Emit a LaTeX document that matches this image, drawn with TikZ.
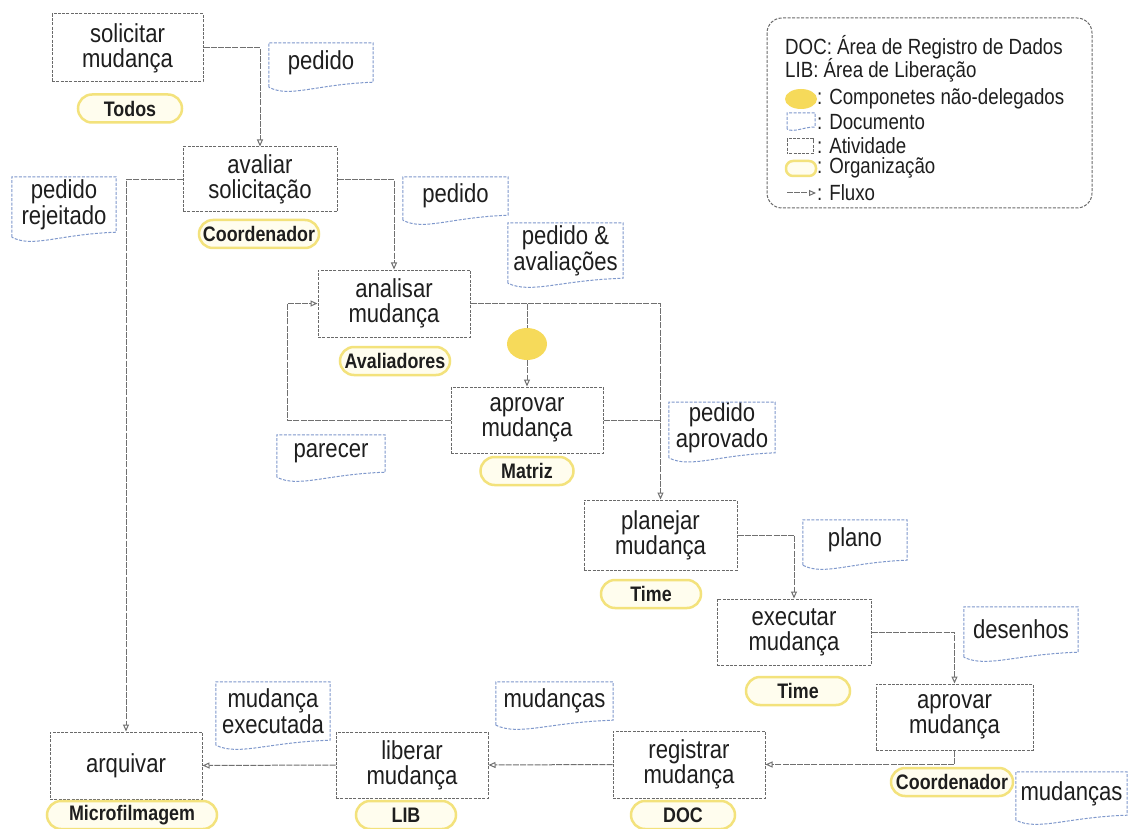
\documentclass[tikz,border=0pt]{standalone}
\usepackage{fontspec}
\setmainfont{Liberation Sans}[FakeStretch=0.85]
\usetikzlibrary{arrows.meta,shapes.geometric,shapes.misc,calc}
\definecolor{ink}{HTML}{1E1E1E}
\definecolor{boxline}{HTML}{6A6A6A}
\definecolor{flowline}{HTML}{707070}
\definecolor{docblue}{HTML}{7F98CC}
\definecolor{orgline}{HTML}{F3E27C}
\definecolor{orgfill}{HTML}{FFFDEE}
\definecolor{gold}{HTML}{F6DA5A}

\begin{document}
\begin{tikzpicture}[x=1pt,y=-1pt,
  every node/.style={text=ink},
  act/.style={draw=boxline, line width=1pt, dash pattern=on 3pt off 1.3pt,
    inner sep=0pt, align=center, font=\fontsize{26}{25}\selectfont},
  docnode/.style={inner sep=0pt, align=center, font=\fontsize{26}{26}\selectfont},
  docedge/.style={draw=docblue, line width=1pt, dash pattern=on 3pt off 1.5pt},
  org/.style={rounded rectangle, draw=orgline, fill=orgfill, line width=2.5pt,
    inner sep=0pt, minimum height=28pt, font=\bfseries\fontsize{21}{21}\selectfont},
  gate/.style={ellipse, fill=gold, minimum width=40pt, minimum height=32pt, inner sep=0pt},
  flow/.style={draw=flowline, line width=1pt, dash pattern=on 6pt off 1.2pt},
  tip/.style={-{Triangle[open,length=7pt,width=6pt]}},
  legtext/.style={anchor=west, inner sep=0pt, font=\fontsize{22}{22}\selectfont},
  legframe/.style={draw=boxline, line width=1pt, dash pattern=on 3pt off 1.5pt, rounded corners=15pt}
]
\useasboundingbox[fill=white] (0,0) rectangle (1130,829);

% activities
\node[act, minimum width=151pt, minimum height=68pt] (A1) at (127.5,48) {solicitar\\mudança};
\node[act, minimum width=154pt, minimum height=65pt] (A2) at (260,179.5) {avaliar\\solicitação};
\node[act, minimum width=152pt, minimum height=67pt] (A3) at (394,303.5) {analisar\\mudança};
\node[act, minimum width=152pt, minimum height=66pt] (A4) at (527,420) {aprovar\\mudança};
\node[act, minimum width=153pt, minimum height=70pt] (A5) at (660.5,535) {planejar\\mudança};
\node[act, minimum width=154pt, minimum height=66pt] (A6) at (794,632) {executar\\mudança};
\node[act, minimum width=157pt, minimum height=66pt] (A7) at (954.5,717) {aprovar\\mudança};
\node[act, minimum width=152pt, minimum height=67pt] (A8) at (689,764.5) {registrar\\mudança};
\node[act, minimum width=152pt, minimum height=66pt] (A9) at (412,765) {liberar\\mudança};
\node[act, minimum width=152pt, minimum height=67pt] (A10) at (126,765.5) {arquivar};

% organisations
\node[org, minimum width=104pt] (O1) at (130,108.5) {Todos};
\node[org, minimum width=120pt] (O2) at (259,234) {Coordenador};
\node[org, minimum width=110pt] (O3) at (395,361) {Avaliadores};
\node[org, minimum width=93pt] (O4) at (527,471) {Matriz};
\node[org, minimum width=100pt] (O5) at (651,594) {Time};
\node[org, minimum width=104pt] (O6) at (798,691) {Time};
\node[org, minimum width=122pt] (O7) at (952,782) {Coordenador};
\node[org, minimum width=104pt] (O8) at (683,815) {DOC};
\node[org, minimum width=100pt] (O9) at (406,815) {LIB};
\node[org, minimum width=170pt] (O10) at (132,815) {Microfilmagem};

% documents
\node[docnode, minimum width=104pt, minimum height=39pt] (D1) at (321,62.5) {pedido};
\node[docnode, minimum width=104pt, minimum height=55pt] (D2) at (64,204.5) {pedido\\rejeitado};
\node[docnode, minimum width=105pt, minimum height=38pt] (D3) at (455.5,196) {pedido};
\node[docnode, minimum width=115pt, minimum height=55pt] (D4) at (565.5,250.5) {pedido \&\\avaliações};
\node[docnode, minimum width=108pt, minimum height=37pt] (D5) at (331,453.5) {parecer};
\node[docnode, minimum width=106pt, minimum height=45pt] (D6) at (722,427.5) {pedido\\aprovado};
\node[docnode, minimum width=104pt, minimum height=40pt] (D7) at (855,540) {plano};
\node[docnode, minimum width=114pt, minimum height=45pt] (D8) at (1021,629.5) {desenhos};
\node[docnode, minimum width=114pt, minimum height=58pt] (D9) at (273,711) {mudança\\executada};
\node[docnode, minimum width=117pt, minimum height=38pt] (D10) at (554.5,701) {mudanças};
\node[docnode, minimum width=111pt, minimum height=43pt] (D11) at (1071.5,793.5) {mudanças};
\foreach \d in {D1,D2,D3,D4,D5,D6,D7,D8,D9,D10,D11}
  \draw[docedge] ($(\d.south west)+(0,5)$) -- (\d.north west) -- (\d.north east) -- (\d.south east)
    .. controls ($(\d.south west)!0.45!(\d.south east)+(0,2)$)
    and ($(\d.south west)!0.2!(\d.south east)+(0,16)$) .. ($(\d.south west)+(0,5)$);

% non-delegated component
\node[gate] (G) at (527,344) {};

% flows
\coordinate (back) at (287,420);
\draw[flow,tip] (A1.east) -| (A2.north);
\draw[flow,tip] (A2.east) -| (A3.north);
\draw[flow,tip] (A2.west) -| (A10.north);
\draw[flow,tip] (A3.east) -| (A5.north);
\draw[flow] (A3.east -| G) -- (G);
\draw[flow,tip] (G) -- (A4.north);
\draw[flow,tip] (A4.west) -- (back) |- (A3.west);
\draw[flow] (A4.east) -- (A4.east -| A5.north);
\draw[flow,tip] (A5.east) -| (A6.north);
\draw[flow,tip] (A6.east) -| (A7.north);
\draw[flow,tip] (A7.south) |- (A8.east);
\draw[flow,tip] (A8.west) -- (A9.east);
\draw[flow,tip] (A9.west) -- (A10.east);

% legend
\draw[legframe] (767,18) rectangle (1092,208);
\node[legtext] (L1) at (785,47) {DOC: Área de Registro de Dados};
\node[legtext] (L2) at (785,70) {LIB: Área de Liberação};
\fill[gold] (801,99) ellipse (16 and 10);
\node[legtext] (L3) at (817,99) {: Componetes não-delegados};
\draw[docedge] (787,129) -- (787,113) -- (815,113) -- (815,127) .. controls (803,127) and (794,133) .. (787,129);
\node[legtext] (L4) at (817,122) {: Documento};
\draw[act] (787,139) rectangle (813,154);
\node[legtext] (L5) at (817,146) {: Atividade};
\draw[draw=orgline, fill=orgfill, line width=2.5pt, rounded corners=7pt] (786,161) rectangle (816,176);
\node[legtext] (L6) at (817,168) {: Organização};
\draw[flow,tip] (787,193) -- (816,193);
\node[legtext] (L7) at (817,193) {: Fluxo};
\end{tikzpicture}
\end{document}
